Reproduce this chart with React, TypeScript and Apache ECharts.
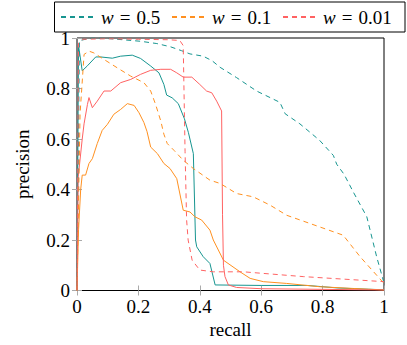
import React, { useEffect, useRef } from "react";
import * as echarts from "echarts";

// w = 0.5 (teal)
const w05DashedRecall = [0, 0.008, 0.05, 0.1, 0.15, 0.207, 0.26, 0.305, 0.34, 0.368, 0.411, 0.44, 0.466, 0.52, 0.585, 0.629, 0.661, 0.678, 0.726, 0.79, 0.835, 0.846, 0.87, 0.9, 0.944, 0.976, 1.0];
const w05DashedPrecision = [0, 0.99, 1.0, 0.998, 0.993, 0.987, 0.978, 0.965, 0.95, 0.937, 0.928, 0.91, 0.884, 0.843, 0.79, 0.764, 0.745, 0.7, 0.66, 0.595, 0.535, 0.5, 0.46, 0.39, 0.292, 0.134, 0.03];
const w05SolidRecall = [0, 0.005, 0.017, 0.034, 0.061, 0.077, 0.115, 0.142, 0.18, 0.207, 0.24, 0.267, 0.283, 0.292, 0.31, 0.33, 0.35, 0.363, 0.379, 0.386, 0.39, 0.411, 0.433, 0.45, 0.6, 0.75, 0.8, 0.85, 0.95, 1.0];
const w05SolidPrecision = [0, 0.97, 0.87, 0.89, 0.925, 0.925, 0.92, 0.928, 0.932, 0.919, 0.889, 0.862, 0.816, 0.774, 0.763, 0.74, 0.68, 0.625, 0.542, 0.2, 0.173, 0.134, 0.107, 0.022, 0.02, 0.02, 0.015, 0.01, 0.005, 0.003];

// w = 0.1 (orange)
const w01DashedRecall = [0, 0.01, 0.023, 0.039, 0.055, 0.088, 0.131, 0.175, 0.218, 0.24, 0.256, 0.273, 0.283, 0.294, 0.316, 0.346, 0.379, 0.433, 0.466, 0.52, 0.574, 0.629, 0.683, 0.79, 0.867, 0.922, 1.0];
const w01DashedPrecision = [0, 0.7, 0.935, 0.948, 0.941, 0.915, 0.882, 0.849, 0.823, 0.79, 0.737, 0.671, 0.619, 0.582, 0.555, 0.516, 0.483, 0.437, 0.424, 0.384, 0.371, 0.338, 0.298, 0.252, 0.219, 0.134, 0.028];
const w01SolidRecall = [0, 0.005, 0.012, 0.017, 0.028, 0.039, 0.05, 0.066, 0.082, 0.099, 0.12, 0.142, 0.164, 0.186, 0.202, 0.218, 0.228, 0.24, 0.262, 0.283, 0.303, 0.325, 0.346, 0.368, 0.384, 0.406, 0.433, 0.444, 0.477, 0.531, 0.564, 0.607, 0.683, 0.79, 0.9, 1.0];
const w01SolidPrecision = [0, 0.24, 0.4, 0.457, 0.457, 0.503, 0.522, 0.582, 0.634, 0.658, 0.698, 0.717, 0.74, 0.733, 0.704, 0.665, 0.63, 0.568, 0.542, 0.503, 0.483, 0.443, 0.318, 0.311, 0.292, 0.279, 0.239, 0.2, 0.12, 0.074, 0.048, 0.035, 0.028, 0.015, 0.008, 0.002];

// w = 0.01 (red)
const w001DashedRecall = [0, 0.005, 0.02, 0.1, 0.2, 0.3, 0.335, 0.346, 0.352, 0.357, 0.362, 0.375, 0.4, 0.444, 0.542, 0.737, 1.0];
const w001DashedPrecision = [0, 0.98, 0.995, 0.997, 0.995, 0.993, 0.99, 0.97, 0.55, 0.28, 0.2, 0.12, 0.081, 0.074, 0.074, 0.055, 0.035];
const w001SolidRecall = [0, 0.004, 0.017, 0.023, 0.034, 0.039, 0.05, 0.066, 0.088, 0.11, 0.142, 0.175, 0.207, 0.24, 0.273, 0.305, 0.325, 0.346, 0.374, 0.4, 0.422, 0.439, 0.455, 0.471, 0.474, 0.477, 0.482, 0.493, 0.52, 0.6, 1.0];
const w001SolidPrecision = [0, 0.45, 0.6, 0.66, 0.737, 0.764, 0.724, 0.75, 0.79, 0.79, 0.823, 0.836, 0.856, 0.872, 0.876, 0.876, 0.862, 0.845, 0.845, 0.816, 0.79, 0.783, 0.75, 0.711, 0.3, 0.1, 0.055, 0.022, 0.012, 0.007, 0.002];

const legendNames = ["w = 0.5", "w = 0.1", "w = 0.01"];
const legendValues = ["0.5", "0.1", "0.01"];

const TEAL = "#179590";
const ORANGE = "#ff9020";
const RED = "#ff6262";
const FONT = "'Liberation Serif', 'DejaVu Serif', serif";

const zip = (xs: number[], ys: number[]) => xs.map((x, i) => [x, ys[i]]);

export default function App() {
  const ref = useRef<HTMLDivElement>(null);
  useEffect(() => {
    if (!ref.current) return;
    const chart = echarts.init(ref.current, null, { renderer: "svg" });
    const dashed = [5, 4];
    const mk = (name: string, color: string, xs: number[], ys: number[], dash: boolean) => ({
      name,
      type: "line",
      data: zip(xs, ys),
      symbol: "none",
      showSymbol: false,
      lineStyle: { color, width: 1, type: dash ? dashed : "solid" },
      itemStyle: { color },
      z: dash ? 3 : 2,
    });
    const axisCommon = {
      type: "value",
      min: 0,
      max: 1,
      interval: 0.2,
      splitLine: { show: false },
      axisLine: { show: false },
      axisTick: { show: true, inside: true, length: 5, lineStyle: { color: "#aaaaaa", width: 1 } },
    };
    const labelStyle = { fontFamily: FONT, fontSize: 19, color: "#000" };
    chart.setOption({
      animation: false,
      textStyle: { fontFamily: FONT, fontSize: 19, color: "#000" },
      grid: {
        left: 77,
        right: 23,
        top: 38,
        bottom: 54.5,
        show: true,
        borderColor: "#000",
        borderWidth: 1,
        backgroundColor: "transparent",
      },
      legend: {
        data: legendNames.map((n, i) => ({
          name: n,
          textStyle: { width: i === 2 ? 74 : 67 },
        })),
        left: 54.5,
        top: 2,
        padding: [5, 8, 5, 5.5],
        itemGap: 3,
        itemWidth: 32,
        itemHeight: 14,
        itemStyle: { opacity: 0 },
        borderColor: "#000",
        borderWidth: 1,
        borderRadius: 0,
        backgroundColor: "#fff",
        z: 20,
        formatter: (name: string) => {
          const i = legendNames.indexOf(name);
          return `{i|w}{e|=}{n|${legendValues[i]}}`;
        },
        textStyle: {
          fontFamily: FONT,
          fontSize: 19,
          color: "#000",
          padding: [0, 0, 0, 3],
          lineHeight: 20,
          rich: {
            i: { fontFamily: FONT, fontSize: 19, fontStyle: "italic", color: "#000" },
            e: { fontFamily: FONT, fontSize: 19, color: "#000", padding: [0, 6, 0, 6] },
            n: { fontFamily: FONT, fontSize: 19, color: "#000" },
          },
        },
      },
      xAxis: [
        {
          ...axisCommon,
          position: "bottom",
          name: "recall",
          nameLocation: "middle",
          nameGap: 29,
          nameTextStyle: labelStyle,
          axisLabel: { ...labelStyle, margin: 6, formatter: (v: number) => String(v) },
        },
        {
          ...axisCommon,
          position: "top",
          axisLabel: { show: false },
        },
      ],
      yAxis: [
        {
          ...axisCommon,
          position: "left",
          name: "precision",
          nameLocation: "middle",
          nameGap: 45,
          nameRotate: 90,
          nameTextStyle: labelStyle,
          axisLabel: { ...labelStyle, margin: 7, formatter: (v: number) => String(v) },
        },
        {
          ...axisCommon,
          position: "right",
          axisLabel: { show: false },
        },
      ],
      series: [
        mk("w = 0.5 solid", TEAL, w05SolidRecall, w05SolidPrecision, false),
        mk("w = 0.1 solid", ORANGE, w01SolidRecall, w01SolidPrecision, false),
        mk("w = 0.01 solid", RED, w001SolidRecall, w001SolidPrecision, false),
        mk(legendNames[0], TEAL, w05DashedRecall, w05DashedPrecision, true),
        mk(legendNames[1], ORANGE, w01DashedRecall, w01DashedPrecision, true),
        mk(legendNames[2], RED, w001DashedRecall, w001DashedPrecision, true),
      ],
    });
    return () => chart.dispose();
  }, []);
  return <div ref={ref} style={{ width: 407, height: 345, position: "absolute", left: 0, top: 0 }} />;
}
